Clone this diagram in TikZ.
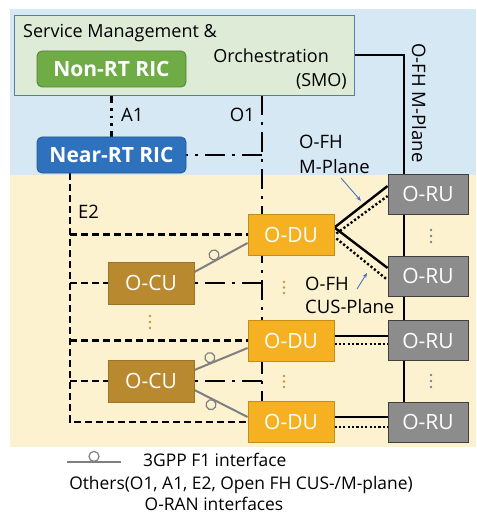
\documentclass[tikz,border=0pt]{standalone}
\usepackage{fontspec}
\setmainfont{Open Sans}
\usetikzlibrary{arrows.meta,calc}

\definecolor{skyback}{HTML}{D7E8F5}
\definecolor{sandback}{HTML}{FDF2D0}
\definecolor{smofill}{HTML}{DEEBD6}
\definecolor{smoedge}{HTML}{5A7DA8}
\definecolor{nonrtc}{HTML}{6FAC46}
\definecolor{nearrtc}{HTML}{2E72BD}
\definecolor{cuc}{HTML}{B8892E}
\definecolor{duc}{HTML}{F5B121}
\definecolor{ruc}{HTML}{8C8C8C}
\definecolor{fgray}{HTML}{7F7F7F}
\definecolor{tipblue}{HTML}{4472C4}
\definecolor{dotgold}{HTML}{C9963F}
\definecolor{dotgray}{HTML}{7A8796}

\pgfdeclarelayer{back}
\pgfdeclarelayer{wires}
\pgfsetlayers{back,wires,main}

\begin{document}
\begin{tikzpicture}[x=1pt,y=-1pt,
  unit/.style={draw, line width=0.8pt, inner sep=0pt, text=white,
    minimum height=41pt, font=\fontsize{21}{24}\selectfont},
  ric/.style={unit, rounded corners=5pt, minimum width=149pt, minimum height=36pt,
    font=\bfseries\fontsize{21}{24}\selectfont},
  cubox/.style={unit, fill=cuc, draw=cuc!85!black, minimum width=86pt, minimum height=42pt},
  dubox/.style={unit, fill=duc, draw=duc!80!black, minimum width=86pt},
  rubox/.style={unit, fill=ruc, draw=black!75, minimum width=80pt, minimum height=40pt},
  lbl/.style={font=\fontsize{18.5}{22}\selectfont, inner sep=0pt},
  smotext/.style={lbl, font=\fontsize{18}{22}\selectfont},
  legtext/.style={lbl, font=\fontsize{17.4}{21}\selectfont},
  o1line/.style={line width=2.4pt, dash pattern=on 20pt off 7pt on 3pt off 7pt},
  a1line/.style={line width=2.4pt, dash pattern=on 16pt off 5pt on 2.5pt off 5pt on 2.5pt off 5pt on 2.5pt off 5pt},
  e2line/.style={line width=2.4pt, dash pattern=on 7pt off 4pt},
  fhsolid/.style={line width=2.4pt},
  fhdot/.style={line width=2.4pt, dash pattern=on 2.2pt off 2.2pt},
  f1line/.style={draw=fgray, line width=2pt},
  f1ring/.style={circle, draw=fgray, line width=1.2pt, minimum size=10pt, inner sep=0pt},
  pointer/.style={draw=tipblue, line width=0.9pt, -{Stealth[length=5pt,width=4pt]}},
  vdot/.style={circle, inner sep=0pt, minimum size=2.6pt}
]
\useasboundingbox (0,0) rectangle (476,513);

% backgrounds
\begin{pgfonlayer}{back}
  \fill[white] (0,0) rectangle (476,513);
  \fill[skyback] (10,9) rectangle (476,175);
  \fill[sandback] (10,175) rectangle (476,447);
\end{pgfonlayer}

% SMO frame and its text
\node[draw=smoedge, fill=smofill, line width=0.8pt, minimum width=340pt, minimum height=80pt,
      inner sep=0pt] (smo) at (184,55) {};
\node[smotext, anchor=base west] (smot1) at (23,38) {Service Management \&};
\node[smotext, anchor=base east] (smot2) at (329,63) {Orchestration};
\node[smotext, anchor=base east] (smot3) at (347,87) {(SMO)};

% RICs
\node[ric, fill=nonrtc, draw=nonrtc!75!black] (nonrt) at (111.5,69) {Non-RT RIC};
\node[ric, fill=nearrtc, draw=nearrtc!75!black] (nearrt) at (111.5,155) {Near-RT RIC};

% central units
\node[cubox] (ocu1) at (151,283) {O-CU};
\node[cubox] (ocu2) at (151,381) {O-CU};

% distributed units
\node[dubox] (odu1) at (291,234.5) {O-DU};
\node[dubox] (odu2) at (291,340.5) {O-DU};
\node[dubox] (odu3) at (291,422) {O-DU};

% radio units
\node[rubox] (oru1) at (428,194) {O-RU};
\node[rubox] (oru2) at (428,276) {O-RU};
\node[rubox] (oru3) at (428,340.5) {O-RU};
\node[rubox] (oru4) at (428,422) {O-RU};

% guide coordinates for the vertical trunks
\coordinate (e2x) at (70,0);
\coordinate (o1x) at (262,0);
\coordinate (mx) at (404,0);

\begin{pgfonlayer}{wires}
  % A1
  \draw[a1line] (nonrt.south) -- (nearrt.north);
  % O1 trunk and branches
  \draw[o1line] (smo.south -| o1x) -- (odu3.north -| o1x);
  \draw[o1line] (nearrt.east -| o1x) -- (nearrt.east);
  \draw[o1line] (ocu1.east -| o1x) -- (ocu1.east);
  \draw[o1line] (ocu2.east -| o1x) -- (ocu2.east);
  % E2 trunk and branches
  \draw[e2line] (nearrt.south -| e2x) -- (odu3.west -| e2x) -- (odu3.west);
  \draw[e2line] (odu1.west -| e2x) -- (odu1.west);
  \draw[e2line] (ocu1.west -| e2x) -- (ocu1.west);
  \draw[e2line] (odu2.west -| e2x) -- (odu2.west);
  \draw[e2line] (ocu2.west -| e2x) -- (ocu2.west);
  % O-FH M-plane from SMO along the radio units
  \draw[fhsolid] (smo.east) -| (oru1.north -| mx);
  \draw[fhsolid] (oru1.south -| mx) -- (oru4.north -| mx);
  % fronthaul O-DU to O-RU
  \draw[fhsolid] ($(odu1.east)+(0,-7)$) -- ($(oru1.west)+(0,-8)$);
  \draw[fhsolid] ($(odu1.east)+(0,-7)$) -- ($(oru2.west)+(0,-8)$);
  \draw[fhdot] ($(odu1.east)+(2,-1)$) -- ($(oru1.west)+(0,2)$);
  \draw[fhdot] ($(odu1.east)+(2,4)$) -- ($(oru2.west)+(0,4)$);
  \draw[fhsolid] ($(odu2.east)+(0,-4.5)$) -- ($(oru3.west)+(0,-4.5)$);
  \draw[fhdot] ($(odu2.east)+(0,3.5)$) -- ($(oru3.west)+(0,3.5)$);
  \draw[fhsolid] ($(odu3.east)+(0,-5)$) -- ($(oru4.west)+(0,-5)$);
  \draw[fhdot] ($(odu3.east)+(0,5)$) -- ($(oru4.west)+(0,5)$);
  % F1 links
  \draw[f1line] ($(ocu1.east)+(0,-11)$) -- node[f1ring, pos=0.42, sloped, anchor=south] {} ($(odu1.west)+(0,8.5)$);
  \draw[f1line] ($(ocu2.east)+(0,-11)$) -- node[f1ring, pos=0.33, sloped, anchor=south] {} ($(odu2.west)+(0,7.5)$);
  \draw[f1line] ($(ocu2.east)+(0,9)$) -- node[f1ring, pos=0.36, sloped, anchor=north] {} ($(odu3.west)+(0,-5)$);
\end{pgfonlayer}

% interface labels
\node[lbl, anchor=base west] (a1t) at (121,122) {A1};
\node[lbl, anchor=base east] (o1t) at (255,122) {O1};
\node[lbl, anchor=base west] (e2t) at (78,218) {E2};
\node[lbl, rotate=-90] (mpt) at (419,103) {O-FH M-Plane};
\node[lbl, anchor=base west] (fhm1) at (299,149) {O-FH};
\node[lbl, anchor=base west] (fhm2) at (299,173) {M-Plane};
\node[lbl, anchor=base west] (fhc1) at (305,290) {O-FH};
\node[lbl, anchor=base west] (fhc2) at (305,313) {CUS-Plane};
\coordinate (mtipA) at (341,178);
\coordinate (mtipB) at (361,201);
\coordinate (ctipA) at (357,289);
\coordinate (ctipB) at (367,273);
\draw[pointer] (mtipA) -- (mtipB);
\draw[pointer] (ctipA) -- (ctipB);

% ellipsis marks
\foreach \yy in {282,287.5,293} \node[vdot, fill=dotgold] at (284,\yy) {};
\foreach \yy in {376,381.5,387} \node[vdot, fill=dotgold] at (284,\yy) {};
\foreach \yy in {316,322,328} \node[vdot, fill=dotgold] at (150,\yy) {};
\foreach \yy in {230,236,242} \node[vdot, fill=dotgray] at (431,\yy) {};
\foreach \yy in {375,381,387} \node[vdot, fill=dotgray] at (431,\yy) {};

% legend
\coordinate (legA) at (67,462);
\coordinate (legB) at (121,462);
\draw[f1line] (legA) -- node[f1ring, pos=0.5, anchor=south] {} (legB);
\node[legtext, anchor=base west] (leg1) at (143,466) {3GPP F1 interface};
\node[legtext, anchor=base] (leg2) at (241,489) {Others(O1, A1, E2, Open FH CUS-/M-plane)};
\node[legtext, anchor=base] (leg3) at (214,510) {O-RAN interfaces};
\end{tikzpicture}
\end{document}
